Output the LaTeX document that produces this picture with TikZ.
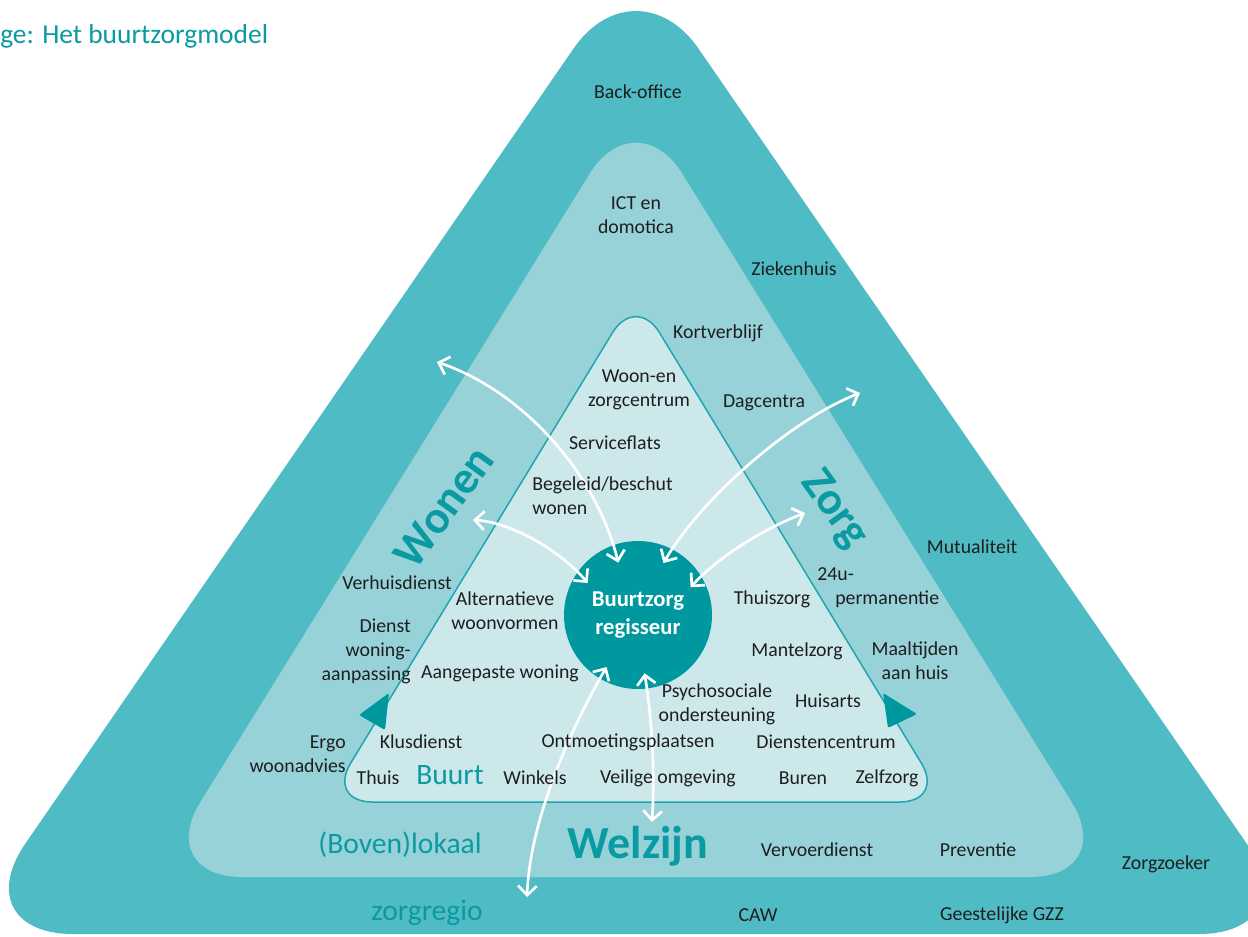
\documentclass[tikz,border=0pt]{standalone}
\usepackage{fontspec}
\setmainfont{Carlito}
\usepackage{tikz}
\usetikzlibrary{arrows.meta,positioning}
\definecolor{outerband}{RGB}{79,187,196}
\definecolor{midband}{RGB}{152,210,217}
\definecolor{innerband}{RGB}{204,232,235}
\definecolor{inneredge}{RGB}{31,164,173}
\definecolor{hubteal}{RGB}{0,152,159}
\definecolor{tealtext}{RGB}{10,154,162}
\definecolor{darktext}{RGB}{30,30,30}

\begin{document}
\begin{tikzpicture}[x=0.75pt,y=0.75pt,yscale=-1,xscale=1,
  lbl/.style={inner sep=0.75pt, align=center, text=darktext, font=\fontsize{14.85}{18}\selectfont},
  bigteal/.style={inner sep=0.75pt, text=tealtext, font=\bfseries\fontsize{34.5}{40}\selectfont},
  midteal/.style={inner sep=0.75pt, text=tealtext, font=\fontsize{22.2}{26}\selectfont},
  flow/.style={draw=white, line width=2pt, >={Straight Barb[length=7pt,width=14pt]}, <->}]
\useasboundingbox (0,0) rectangle (1248,936);
\clip (0,0) rectangle (1248,936);

%Shape: outer band
\fill [outerband, rounded corners=82.5pt] (636,934) -- (-37,934) -- (636,-42) -- (1309,934) -- cycle;
%Shape: middle band
\fill [midband, rounded corners=66pt] (636,877) -- (154,877) -- (636,99) -- (1118,877) -- cycle;
%Shape: inner band
\draw [fill=innerband, draw=inneredge, line width=1.1pt, rounded corners=34pt] (636,802) -- (327,802) -- (636,294) -- (945,802) -- cycle;

%Shape: arrowheads on the inner edge
\fill [hubteal, rounded corners=1.5pt] (389,693) -- (359,715) -- (385,730) -- cycle;
\fill [hubteal, rounded corners=1.5pt] (883,693) -- (917,714) -- (888,728) -- cycle;

%Shape: hub
\node (regisseur) [circle, fill=hubteal, minimum size=111pt, inner sep=0pt, text=white, align=center, font=\bfseries\fontsize{17}{21}\selectfont] at (638,615) {Buurtzorg\\regisseur};

%Straight Lines: free ends
\coordinate (wonenfar) at (437,362);
\coordinate (wonennear) at (473,520);
\coordinate (zorgfar) at (860,393);
\coordinate (zorgnear) at (805,513);
\coordinate (regiofar) at (527,897);
\coordinate (welzijnnear) at (652,822);

%Curve Lines
\draw [flow, shorten <=-13.8pt] (regisseur.109) .. controls (595,470) and (520,390) .. (wonenfar);
\draw [flow, shorten <=-11.4pt] (regisseur.144) .. controls (560,550) and (510,522) .. (wonennear);
\draw [flow, shorten <=-12.3pt] (regisseur.63) .. controls (700,500) and (790,420) .. (zorgfar);
\draw [flow, shorten <=-11.7pt] (regisseur.32) .. controls (715,560) and (760,530) .. (zorgnear);
\draw [flow, shorten <=-10.1pt] (regisseur.239) .. controls (570,730) and (530,820) .. (regiofar);
\draw [flow, shorten <=-11.7pt] (regisseur.277) .. controls (652,720) and (655,770) .. (welzijnnear);

% Text Node
\draw (0,43) node (title) [anchor=base west, inner sep=0pt, text=tealtext, font=\fontsize{20.6}{24}\selectfont] {ge: Het buurtzorgmodel};
% Text Node
\draw (444,507) node (wonen) [bigteal, rotate=54] {Wonen};
% Text Node
\draw (834,510) node (zorg) [bigteal, rotate=-54] {Zorg};
% Text Node
\draw (638,846) node (welzijn) [bigteal] {Welzijn};
% Text Node
\draw (450,775) node (buurt) [midteal] {Buurt};
% Text Node
\draw (400,845) node (bovenlokaal) [midteal] {(Boven)lokaal};
% Text Node
\draw (427,913) node (zorgregio) [midteal] {zorgregio};

% Text Node
\draw (638,92) node (backoffice) [lbl] {Back-office};
% Text Node
\draw (636,215) node (ict) [lbl] {ICT en\\domotica};
% Text Node
\draw (794,269) node (ziekenhuis) [lbl] {Ziekenhuis};
% Text Node
\draw (718,333) node (kortverblijf) [lbl] {Kortverblijf};
% Text Node
\draw (639,390) node (woonzorg) [lbl] {Woon-en\\zorgcentrum};
% Text Node
\draw (764,403) node (dagcentra) [lbl] {Dagcentra};
% Text Node
\draw (615,443) node (serviceflats) [lbl] {Serviceflats};
% Text Node
\draw (531,496) node (begeleid) [lbl, anchor=west, align=left] {Begeleid/beschut\\wonen};
% Text Node
\draw (972,547) node (mutualiteit) [lbl] {Mutualiteit};
% Text Node
\draw (397,583) node (verhuis) [lbl] {Verhuisdienst};
% Text Node
\draw (505,611) node (alternatief) [lbl] {Alternatieve\\woonvormen};
% Text Node
\draw (412,651) node (aanpassing) [lbl, anchor=east, align=right] {Dienst\\woning-\\aanpassing};
% Text Node
\draw (500,673) node (aangepast) [lbl] {Aangepaste woning};
% Text Node
\draw (347,754) node (ergo) [lbl, anchor=east, align=right] {Ergo\\woonadvies};
% Text Node
\draw (421,742) node (klusdienst) [lbl] {Klusdienst};
% Text Node
\draw (378,778) node (thuis) [lbl] {Thuis};
% Text Node
\draw (535,778) node (winkels) [lbl] {Winkels};
% Text Node
\draw (668,778) node (veilig) [lbl] {Veilige omgeving};
% Text Node
\draw (628,742) node (ontmoeting) [lbl] {Ontmoetingsplaatsen};
% Text Node
\draw (717,704) node (psycho) [lbl] {Psychosociale\\ondersteuning};
% Text Node
\draw (828,701) node (huisarts) [lbl] {Huisarts};
% Text Node
\draw (826,742) node (dienstencentrum) [lbl] {Dienstencentrum};
% Text Node
\draw (803,778) node (buren) [lbl] {Buren};
% Text Node
\draw (887,778) node (zelfzorg) [lbl] {Zelfzorg};
% Text Node
\draw (797,651) node (mantelzorg) [lbl] {Mantelzorg};
% Text Node
\draw (915,661) node (maaltijden) [lbl] {Maaltijden\\aan huis};
% Text Node
\draw (772,599) node (thuiszorg) [lbl] {Thuiszorg};
% Text Node
\draw (816,588) node (permanentie) [lbl, anchor=west, align=left] {24u-\\\hspace*{13.5pt}permanentie};
% Text Node
\draw (817,850) node (vervoer) [lbl] {Vervoerdienst};
% Text Node
\draw (978,850) node (preventie) [lbl] {Preventie};
% Text Node
\draw (1166,864) node (zorgzoeker) [lbl] {Zorgzoeker};
% Text Node
\draw (758,915) node (caw) [lbl] {CAW};
% Text Node
\draw (1002,915) node (ggz) [lbl] {Geestelijke GZZ};
\end{tikzpicture}
\end{document}
